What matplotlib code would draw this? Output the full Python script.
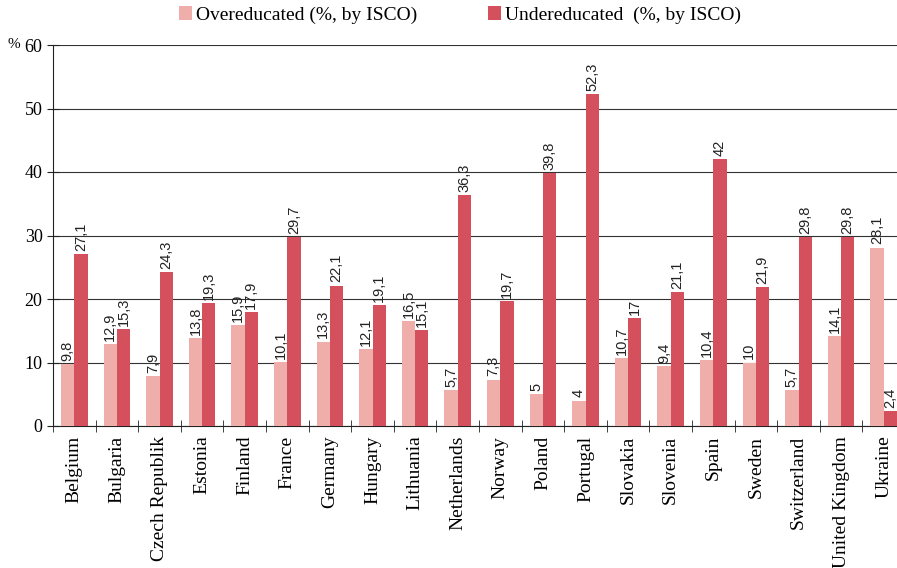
import numpy as np
import matplotlib
matplotlib.use("Agg")
import matplotlib.pyplot as plt
from matplotlib.ticker import MultipleLocator

countries = ["Belgium", "Bulgaria", "Czech Republik", "Estonia", "Finland", "France",
             "Germany", "Hungary", "Lithuania", "Netherlands", "Norway", "Poland",
             "Portugal", "Slovakia", "Slovenia", "Spain", "Sweden", "Switzerland",
             "United Kingdom", "Ukraine"]
over = [9.8, 12.9, 7.9, 13.8, 15.9, 10.1, 13.3, 12.1, 16.5, 5.7,
        7.3, 5, 4, 10.7, 9.4, 10.4, 10, 5.7, 14.1, 28.1]
under = [27.1, 15.3, 24.3, 19.3, 17.9, 29.7, 22.1, 19.1, 15.1, 36.3,
         19.7, 39.8, 52.3, 17, 21.1, 42, 21.9, 29.8, 29.8, 2.4]

LIGHT = "#f0aeab"
DARK = "#d4505c"
SERIF = ["Liberation Serif", "DejaVu Serif"]
SANS = ["Liberation Sans Narrow", "Liberation Sans", "DejaVu Sans"]


def fmt(v):
    return ("%g" % v).replace(".", ",")


fig = plt.figure(figsize=(8.97, 5.68), dpi=100)
ax = fig.add_axes([53 / 897, 1 - 426 / 568, (905 - 53) / 897, (426 - 45) / 568])

x = np.arange(len(countries))
w = 0.31
b1 = ax.bar(x - w / 2, over, w, color=LIGHT, zorder=3, label="Overeducated (%, by ISCO)")
b2 = ax.bar(x + w / 2, under, w, color=DARK, zorder=3, label="Undereducated  (%, by ISCO)")

for xi, v in zip(x - w / 2, over):
    ax.text(xi, v + 0.5, fmt(v), rotation=90, ha="center", va="bottom",
            fontsize=10.5, family=SANS, color="#222222")
for xi, v in zip(x + w / 2, under):
    ax.text(xi, v + 0.5, fmt(v), rotation=90, ha="center", va="bottom",
            fontsize=10.5, family=SANS, color="#222222")

ax.set_xlim(-0.5, len(countries) - 0.5)
ax.set_ylim(0, 60)
ax.yaxis.set_major_locator(MultipleLocator(10))
ax.grid(axis="y", color="#333333", lw=0.8, zorder=0)
for s in ["top", "right"]:
    ax.spines[s].set_visible(False)
ax.spines["left"].set_color("#222222")
ax.spines["bottom"].set_color("#222222")

ax.set_xticks(x)
ax.set_xticklabels(countries, rotation=90, family=SERIF, fontsize=14)
ax.tick_params(axis="x", which="major", length=0, pad=7)
ax.set_xticks(np.arange(-0.5, len(countries), 1.0), minor=True)
ax.tick_params(axis="x", which="minor", length=8, direction="inout", color="#222222")
ax.tick_params(axis="y", direction="inout", length=8, color="#222222")
for t in ax.get_yticklabels():
    t.set_family(SERIF)
    t.set_fontsize(13)

fig.text(7 / 897, 1 - 44 / 568, "%", family=SERIF, fontsize=11, ha="left", va="center")

fig.legend(handles=[b1, b2], loc="center", bbox_to_anchor=(460 / 897, 1 - 15 / 568),
           ncol=2, frameon=False, prop={"family": SERIF, "size": 14},
           handlelength=0.7, handleheight=0.7, handletextpad=0.2, columnspacing=3.6)

fig.savefig("out.png", dpi=100)
